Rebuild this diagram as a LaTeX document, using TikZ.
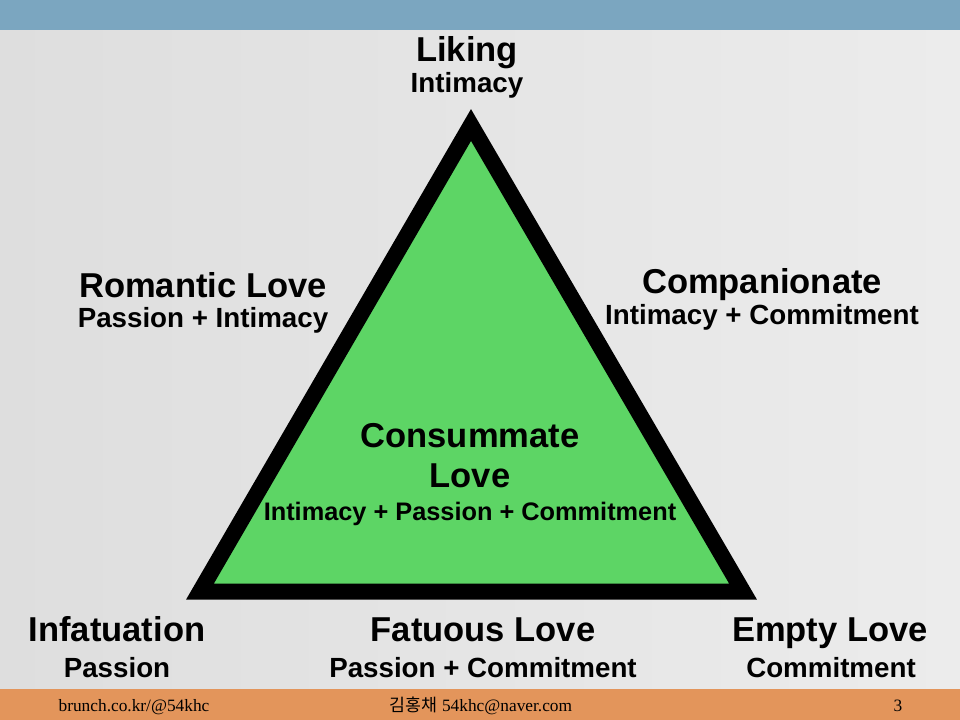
\documentclass[tikz,border=0pt]{standalone}
\usepackage{fontspec}
\setmainfont{Liberation Serif}
\setsansfont{Liberation Sans}
\newfontfamily\korfont{Noto Sans CJK KR}
\usetikzlibrary{backgrounds}
\definecolor{bandblue}{RGB}{123,166,192}
\definecolor{bandorange}{RGB}{227,149,91}
\definecolor{lovegreen}{RGB}{93,213,101}
\definecolor{paperleft}{RGB}{222,222,222}
\definecolor{paperright}{RGB}{236,236,236}

\begin{document}
\begin{tikzpicture}[x=0.75pt,y=-0.75pt,line join=miter]
  \tikzstyle{band}=[draw=none]
  \tikzstyle{title}=[inner sep=0pt,anchor=base,
                                    font=\sffamily\bfseries\fontsize{25.9pt}{28pt}\selectfont]
  \tikzstyle{subtitle}=[inner sep=0pt,anchor=base,
                                    font=\sffamily\bfseries\fontsize{20.8pt}{23pt}\selectfont]
  \tikzstyle{inner_subtitle}=[inner sep=0pt,anchor=base,
                                    font=\sffamily\bfseries\fontsize{19pt}{21pt}\selectfont]
  \tikzstyle{footer}=[inner sep=0pt,anchor=base,
                                    font=\rmfamily\fontsize{13pt}{15pt}\selectfont]
  \tikzstyle{triangle}=[draw=black,fill=lovegreen,line width=12pt]
  \useasboundingbox (0,0) rectangle (960,720);
  %Fondo y bandas
  \fill[left color=paperleft,right color=paperright] (0,30) rectangle (960,689);
  \fill[band,bandblue] (0,0) rectangle (960,30);
  \fill[band,bandorange] (0,689) rectangle (960,720);
  %Triangulo
  \coordinate (apex) at (471,125);
  \coordinate (lcorner) at (200,591.5);
  \coordinate (rcorner) at (743,591.5);
  \draw[triangle] (apex) -- (lcorner) -- (rcorner) -- cycle;
  %Nodos titulo
  \node[title] (liking) at (467,62) {Liking};
  \node[title] (romantic) at (203,297) {Romantic Love};
  \node[title] (companionate) at (762,293) {Companionate};
  \node[title] (consummate) at (470,447) {Consummate};
  \node[title] (consummate2) at (470,487) {Love};
  \node[title] (infatuation) at (117,641) {Infatuation};
  \node[title] (fatuous) at (483,641) {Fatuous Love};
  \node[title] (empty) at (830,641) {Empty Love};
  %Nodos componentes
  \node[subtitle] (likingc) at (467,93) {Intimacy};
  \node[subtitle] (romanticc) at (203,327) {Passion + Intimacy};
  \node[subtitle] (companionatec) at (762,325) {Intimacy + Commitment};
  \node[inner_subtitle] (consummatec) at (470,520) {Intimacy + Passion + Commitment};
  \node[subtitle] (infatuationc) at (117,677) {Passion};
  \node[subtitle] (fatuousc) at (483,677) {Passion + Commitment};
  \node[subtitle] (emptyc) at (831,677) {Commitment};
  %Pie
  \node[footer] (site) at (134,711) {brunch.co.kr/@54khc};
  \node[footer] (mail) at (481,711) {{\korfont 김홍채} 54khc@naver.com};
  \node[footer] (page) at (898,711) {3};
\end{tikzpicture}
\end{document}
